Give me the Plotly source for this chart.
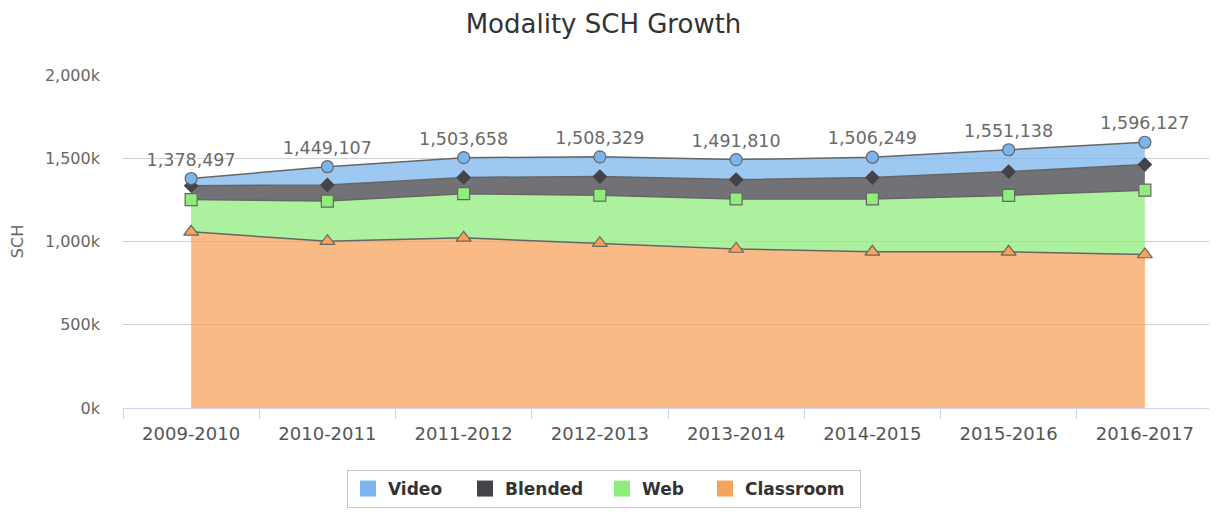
import plotly.graph_objects as go

categories = ["2009-2010", "2010-2011", "2011-2012", "2012-2013",
              "2013-2014", "2014-2015", "2015-2016", "2016-2017"]
classroom = [1058000, 1002000, 1022000, 990000, 955000, 938000, 938000, 922000]
web = [194000, 241000, 265000, 288000, 301000, 318000, 339000, 386000]
blended = [83000, 97000, 98000, 112000, 116000, 128000, 143000, 154000]
video = [43497, 109107, 118658, 118329, 119810, 122249, 131138, 134127]
totals = [1378497, 1449107, 1503658, 1508329, 1491810, 1506249, 1551138, 1596127]

y_ticks = [0, 500000, 1000000, 1500000, 2000000]
y_tick_labels = ["0k", "500k", "1,000k", "1,500k", "2,000k"]

FONT = "DejaVu Sans"
# the page body adds an 8px margin, so the figure is laid out 8px smaller
W, H = 1209, 506

series = [
    ("Classroom", classroom, "#f7a35c", "rgba(247,163,92,0.75)", "triangle-up", 13, "#666666", None),
    ("Web", web, "#90ed7d", "rgba(144,237,125,0.75)", "square", 12, "#666666", None),
    ("Blended", blended, "#434348", "rgba(67,67,72,0.75)", "diamond", 10, "#434348", None),
    ("Video", video, "#7cb5ec", "rgba(124,181,236,0.75)", "circle", 12, "#666666",
     [f"{t:,}" for t in totals]),
]

fig = go.Figure()
for name, vals, color, fill, sym, size, mline, text in series:
    fig.add_trace(go.Scatter(
        x=categories, y=vals, name=name, stackgroup="one",
        mode="lines+markers+text" if text else "lines+markers",
        text=text, textposition="top center",
        textfont=dict(family=FONT, size=17.5, color="#6a6a6a",
                      shadow="1px 1px 1px white"),
        line=dict(color="#666666", width=1.5),
        fillcolor=fill,
        marker=dict(symbol=sym, size=size, color=color,
                    line=dict(color=mline, width=1.2)),
        showlegend=False, hoverinfo="x+y+name",
    ))

# legend entries (square swatches), in reference order
legend_widths = {"Video": 72, "Blended": 92, "Web": 58, "Classroom": 110}
for name, vals, color, *_ in reversed(series):
    fig.add_trace(go.Scatter(
        x=[None], y=[None], name=name, mode="markers",
        marker=dict(symbol="square", size=18, color=color),
        showlegend=True, legendwidth=legend_widths[name],
    ))

fig.update_layout(
    width=W, height=H,
    margin=dict(l=115, r=4, t=67, b=106, autoexpand=False),
    paper_bgcolor="white", plot_bgcolor="white",
    title=dict(text="Modality SCH Growth", x=595.5 / W, xanchor="center",
               xref="container", y=1 - 16 / H, yanchor="middle", yref="container",
               font=dict(family=FONT, size=26, color="#333333")),
    font=dict(family=FONT, color="#666666"),
    xaxis=dict(
        type="category", range=[-0.5, 7.5],
        tickson="boundaries", ticks="outside", ticklen=10, tickcolor="#ccd6eb",
        showline=True, linecolor="#ccd6eb", linewidth=1,
        showgrid=False, zeroline=False, ticklabelstandoff=9,
        tickfont=dict(family=FONT, size=18, color="#555555"),
    ),
    yaxis=dict(
        range=[0, 2000000], tickvals=y_ticks, ticktext=y_tick_labels,
        showgrid=True, gridcolor="#d0d0d0", gridwidth=1,
        zeroline=False, showline=False, ticks="",
        ticklabelstandoff=22,
        tickfont=dict(family=FONT, size=16, color="#666666"),
        title=dict(text="SCH", font=dict(family=FONT, size=16, color="#666666"),
                   standoff=17),
    ),
    legend=dict(
        orientation="h", xref="container", yref="container",
        x=339 / W, xanchor="left", y=1 - 462 / H, yanchor="top",
        bordercolor="#c8c8c8", borderwidth=1, bgcolor="white",
        font=dict(family=FONT, size=17, color="#333333", weight="bold"),
        itemwidth=30, tracegroupgap=0, traceorder="normal",
    ),
)

fig.write_html("out.html")
